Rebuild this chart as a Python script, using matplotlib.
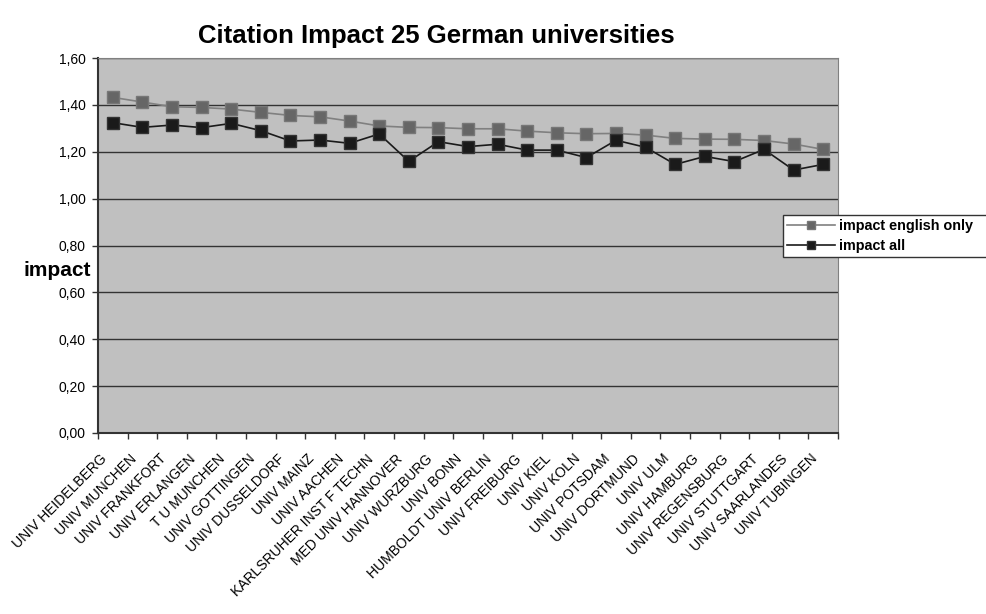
import numpy as np
import matplotlib.pyplot as plt
from matplotlib.ticker import FixedLocator
from matplotlib.transforms import ScaledTranslation

universities = [
    "UNIV HEIDELBERG", "UNIV MUNCHEN", "UNIV FRANKFORT", "UNIV ERLANGEN",
    "T U MUNCHEN", "UNIV GOTTINGEN", "UNIV DUSSELDORF", "UNIV MAINZ",
    "UNIV AACHEN", "KARLSRUHER INST F TECHN", "MED UNIV HANNOVER",
    "UNIV WURZBURG", "UNIV BONN", "HUMBOLDT UNIV BERLIN", "UNIV FREIBURG",
    "UNIV KIEL", "UNIV KOLN", "UNIV POTSDAM", "UNIV DORTMUND", "UNIV ULM",
    "UNIV HAMBURG", "UNIV REGENSBURG", "UNIV STUTTGART", "UNIV SAARLANDES",
    "UNIV TUBINGEN",
]
impact_english = [1.432, 1.412, 1.392, 1.389, 1.382, 1.368, 1.355, 1.349,
                  1.331, 1.310, 1.304, 1.303, 1.298, 1.298, 1.288, 1.281,
                  1.277, 1.278, 1.271, 1.257, 1.254, 1.253, 1.248, 1.233,
                  1.210]
impact_all = [1.324, 1.304, 1.314, 1.303, 1.321, 1.290, 1.246, 1.250,
              1.236, 1.276, 1.159, 1.243, 1.222, 1.232, 1.207, 1.207,
              1.175, 1.249, 1.219, 1.146, 1.180, 1.158, 1.210, 1.122,
              1.146]

plt.rcParams['font.family'] = ['Liberation Sans', 'DejaVu Sans']

fig = plt.figure(figsize=(9.87, 6.14), dpi=100)
ax = fig.add_axes([98 / 987, 1 - 433 / 614, 740 / 987, 375 / 614])
ax.set_facecolor('#c0c0c0')

x = np.arange(len(universities))
ax.plot(x, impact_english, color='#808080', lw=1.2, marker='s',
        markersize=8.5, markerfacecolor='#666666', markeredgecolor='#777777',
        label='impact english only', zorder=3)
ax.plot(x, impact_all, color='#1a1a1a', lw=1.2, marker='s',
        markersize=8.5, markerfacecolor='#1a1a1a', markeredgecolor='#333333',
        label='impact all', zorder=4)

ax.set_xlim(-0.5, len(universities) - 0.5)
ax.set_ylim(0, 1.6)
yt = np.arange(0, 1.61, 0.2)
ax.set_yticks(yt)
ax.set_yticklabels([f"{v:.2f}".replace('.', ',') for v in yt], fontsize=10)
ax.yaxis.grid(True, color='#333333', lw=1)
ax.set_axisbelow(True)

ax.set_xticks(x)
ax.set_xticklabels(universities, rotation=45, ha='right', va='center',
                   rotation_mode='anchor', fontsize=10)
ax.tick_params(axis='x', which='major', length=0, pad=17)
shift = ScaledTranslation(-0.08, 0, fig.dpi_scale_trans)
for lbl in ax.get_xticklabels():
    lbl.set_transform(lbl.get_transform() + shift)
ax.xaxis.set_minor_locator(FixedLocator(np.arange(-0.5, len(universities), 1)))
ax.tick_params(axis='x', which='minor', length=4, width=1, color='#333333')
ax.tick_params(axis='y', length=4, width=1, color='#333333', pad=5)

for side in ['top', 'right']:
    ax.spines[side].set_color('#808080')
for side in ['left', 'bottom']:
    ax.spines[side].set_color('#333333')
    ax.spines[side].set_linewidth(1.5)

fig.text(24 / 987, 1 - 270 / 614, 'impact', fontsize=15, fontweight='bold',
         va='center', ha='left')
fig.text(436 / 987, 1 - 36 / 614, 'Citation Impact 25 German universities',
         fontsize=18.5, fontweight='bold', ha='center', va='center')

leg = fig.legend(loc='upper left',
                 bbox_to_anchor=(783 / 987, 1 - 261 / 614, 240 / 987, 46 / 614),
                 mode='expand', borderaxespad=0, frameon=True, fancybox=False,
                 framealpha=1, edgecolor='#333333', handlelength=3.3,
                 handletextpad=0.3, borderpad=0.3, labelspacing=0.4,
                 markerscale=0.75, prop={'weight': 'bold', 'size': 10.4})
leg.get_frame().set_linewidth(1)

fig.savefig('out.png', dpi=100)
